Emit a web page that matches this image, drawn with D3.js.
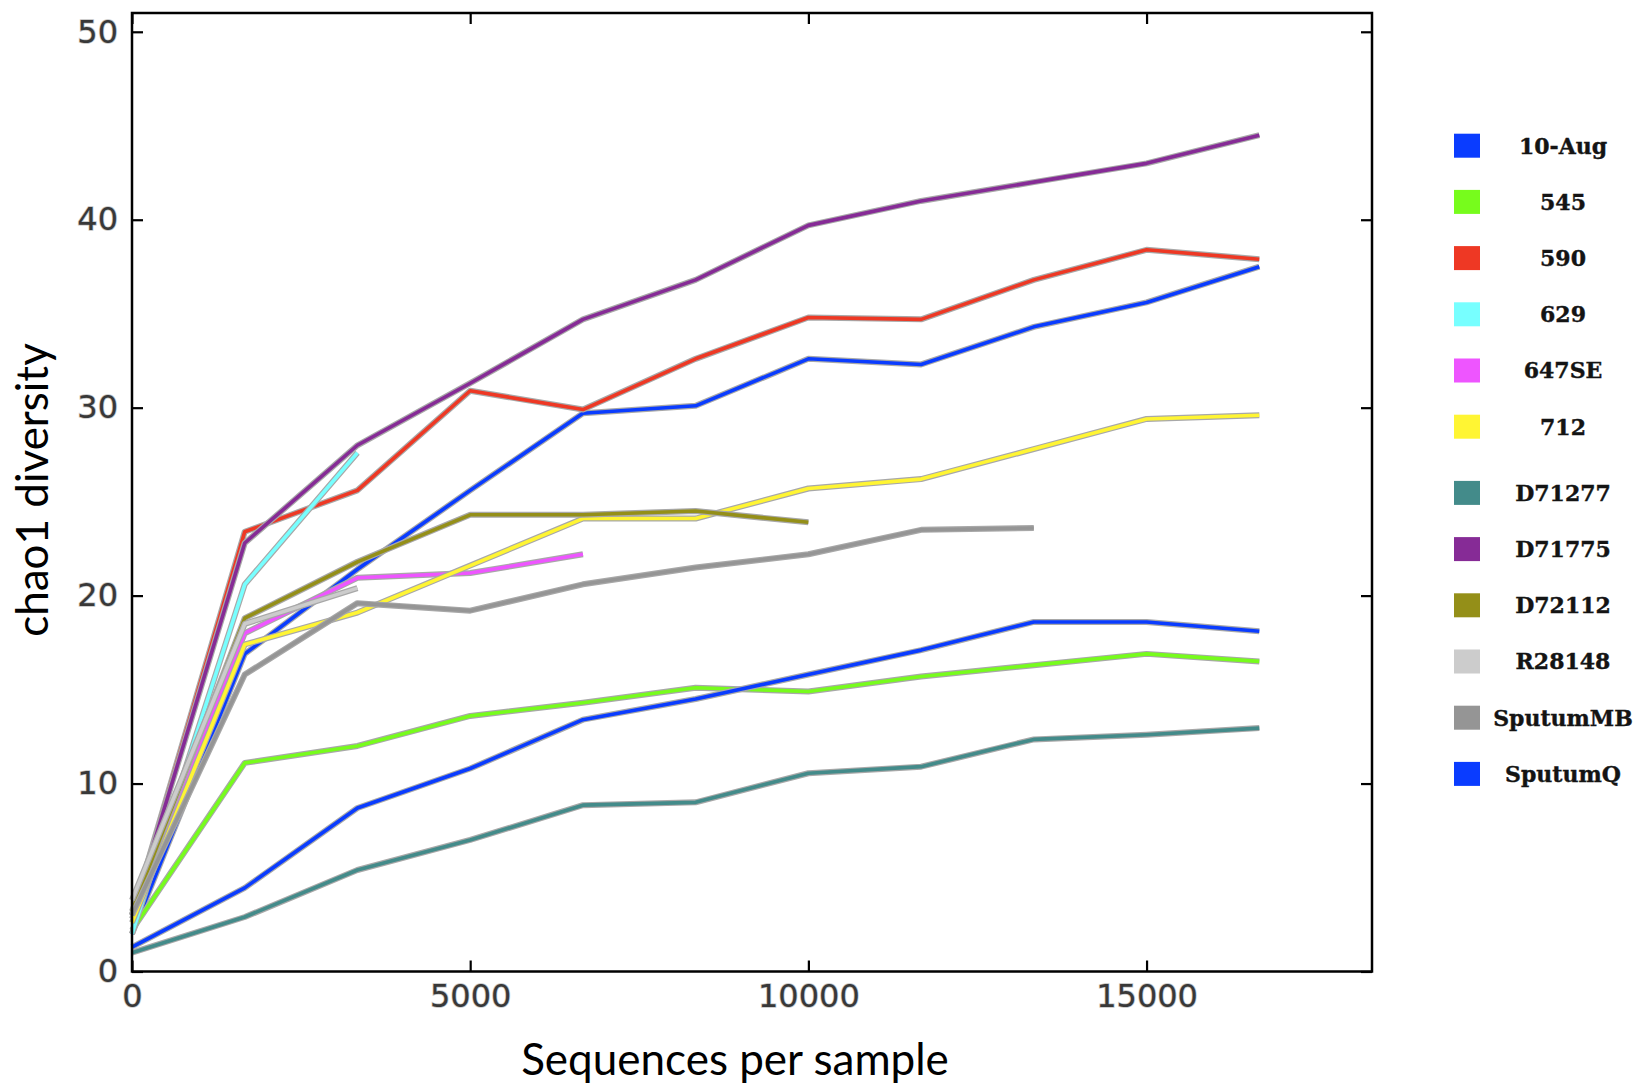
<!DOCTYPE html>
<html>
<head>
<meta charset="utf-8">
<script src="https://cdnjs.cloudflare.com/ajax/libs/d3/7.8.5/d3.min.js"></script>
<style>
    body { margin: 0; background: #fff; }
    svg { display: block; }
</style>
</head>
<body>
<div id="main_svg"></div>
<script>
// rarefaction depths (sequences per sample)
var depths = [0, 1667, 3333, 5000, 6667, 8333, 10000, 11667, 13333, 15000, 16667];

// chao1 values per sample, one per depth (shorter samples stop early)
var s10Aug    = [2.0, 16.9, 21.4, 25.6, 29.7, 30.1, 32.6, 32.3, 34.3, 35.6, 37.5];
var s545      = [2.2, 11.1, 12.0, 13.6, 14.3, 15.1, 14.9, 15.7, 16.3, 16.9, 16.5];
var s590      = [3.0, 23.4, 25.6, 30.9, 29.9, 32.6, 34.8, 34.7, 36.8, 38.4, 37.9];
var s629      = [2.0, 20.6, 27.6];
var s647SE    = [2.8, 18.0, 20.95, 21.2, 22.2];
var s712      = [2.6, 17.4, 19.1, 21.6, 24.1, 24.1, 25.7, 26.2, 27.8, 29.4, 29.6];
var sD71277   = [1.0, 2.9, 5.4, 7.0, 8.85, 9.0, 10.55, 10.9, 12.35, 12.6, 12.95];
var sD71775   = [3.0, 22.8, 28.0, 31.3, 34.7, 36.8, 39.7, 41.0, 42.0, 43.0, 44.5];
var sD72112   = [3.2, 18.8, 21.8, 24.3, 24.3, 24.5, 23.9];
var sR28148   = [3.8, 18.5, 20.4];
var sSputumMB = [3.0, 15.8, 19.6, 19.2, 20.6, 21.5, 22.2, 23.5, 23.6];
var sSputumQ  = [1.3, 4.45, 8.7, 10.8, 13.4, 14.5, 15.8, 17.1, 18.6, 18.6, 18.1];

var names = ["10-Aug", "545", "590", "629", "647SE", "712", "D71277", "D71775", "D72112", "R28148", "SputumMB", "SputumQ"];
var values = [s10Aug, s545, s590, s629, s647SE, s712, sD71277, sD71775, sD72112, sR28148, sSputumMB, sSputumQ];
var colors = ["#0a3cff", "#77fc1c", "#ee3824", "#77ffff", "#ee55ff", "#fff533", "#438b8a", "#862b96", "#948f18", "#cccccc", "#959595", "#0a3cff"];

var yTicks = [0, 10, 20, 30, 40, 50];
var xTicks = [0, 5000, 10000, 15000];

function draw() {
    var W = 1643, H = 1084;
    // plot frame (note: "top" is reserved on window, so use m*)
    var mLeft = 132, mRight = 1372, mTop = 13, mBottom = 971.5;

    var svg = d3.select("#main_svg").append("svg")
        .attr("width", W)
        .attr("height", H);

    svg.append("rect").attr("width", W).attr("height", H).attr("fill", "#fff");

    // set the ranges
    var x = d3.scaleLinear().domain([0, 18333]).range([mLeft, mRight]);
    var y = d3.scaleLinear().domain([0, 51]).range([mBottom, mTop]);

    // lines: grey halo under each coloured stroke
    var line = d3.line()
        .x(function (d, i) { return x(depths[i]); })
        .y(function (d) { return y(d); });

    var series = values.map(function (v, i) {
        return {name: names[i], values: v, color: colors[i]};
    });

    var lines = svg.append("g");
    series.forEach(function (s) {
        lines.append("path")
            .attr("d", line(s.values))
            .attr("fill", "none")
            .attr("stroke", "#a8a8a8")
            .attr("stroke-width", 6)
            .attr("stroke-linejoin", "round");
        lines.append("path")
            .attr("d", line(s.values))
            .attr("fill", "none")
            .attr("stroke", s.color)
            .attr("stroke-width", 3.6)
            .attr("stroke-linejoin", "round");
    });

    // axes, ticks pointing inward on all four sides
    function styleAxis(g) {
        g.select(".domain").remove();
        g.selectAll(".tick line")
            .attr("stroke", "#000")
            .attr("stroke-width", 2.2);
        g.selectAll(".tick text")
            .attr("font-family", "DejaVu Sans")
            .attr("font-size", 32)
            .attr("fill", "#383838")
            .attr("stroke", "#c4c4c4")
            .attr("stroke-width", 1.5)
            .attr("paint-order", "stroke");
    }

    svg.append("g")
        .attr("transform", "translate(" + mLeft + ",0)")
        .call(d3.axisLeft(y).tickValues(yTicks).tickSizeInner(-11).tickSizeOuter(0).tickPadding(14).tickFormat(d3.format("d")))
        .call(styleAxis);

    svg.append("g")
        .attr("transform", "translate(" + mRight + ",0)")
        .call(d3.axisRight(y).tickValues(yTicks).tickSizeInner(-11).tickSizeOuter(0).tickFormat(""))
        .call(styleAxis);

    svg.append("g")
        .attr("transform", "translate(0," + mBottom + ")")
        .call(d3.axisBottom(x).tickValues(xTicks).tickSizeInner(-11).tickSizeOuter(0).tickPadding(13).tickFormat(d3.format("d")))
        .call(styleAxis);

    svg.append("g")
        .attr("transform", "translate(0," + mTop + ")")
        .call(d3.axisTop(x).tickValues(xTicks).tickSizeInner(-11).tickSizeOuter(0).tickFormat(""))
        .call(styleAxis);

    // frame
    svg.append("rect")
        .attr("x", mLeft)
        .attr("y", mTop)
        .attr("width", mRight - mLeft)
        .attr("height", mBottom - mTop)
        .attr("fill", "none")
        .attr("stroke", "#000")
        .attr("stroke-width", 2.5);

    // axis titles
    svg.append("text")
        .attr("x", 735)
        .attr("y", 1075)
        .attr("text-anchor", "middle")
        .attr("font-family", "Lato")
        .attr("font-size", 44)
        .attr("fill", "#000")
        .text("Sequences per sample");

    svg.append("text")
        .attr("transform", "translate(48,490) rotate(-90)")
        .attr("text-anchor", "middle")
        .attr("font-family", "Lato")
        .attr("font-size", 44)
        .attr("fill", "#000")
        .text("chao1 diversity");

    // legend
    var legend = svg.append("g").selectAll("g")
        .data(series)
        .enter().append("g")
        .attr("transform", function (d, i) {
            return "translate(0," + (145.7 + i * 56.2 + (i >= 6 ? 10 : 0)) + ")";
        });

    legend.append("rect")
        .attr("x", 1454)
        .attr("y", -12)
        .attr("width", 26)
        .attr("height", 24)
        .attr("fill", function (d) { return d.color; });

    legend.append("text")
        .attr("x", 1563)
        .attr("dy", "0.36em")
        .attr("text-anchor", "middle")
        .attr("font-family", "DejaVu Serif")
        .attr("font-weight", "bold")
        .attr("font-size", 22)
        .attr("fill", "#141414")
        .attr("stroke", "#141414")
        .attr("stroke-width", 0.4)
        .text(function (d) { return d.name; });
}

draw();
</script>
</body>
</html>
